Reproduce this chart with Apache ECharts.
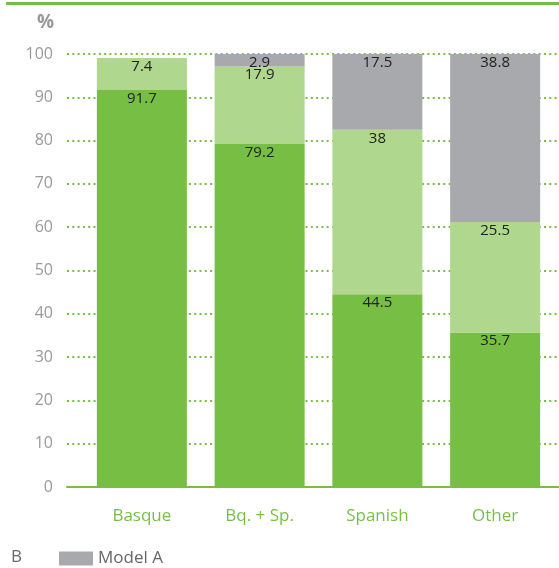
<!DOCTYPE html>
<html><head><meta charset="utf-8">
<script src="https://cdn.jsdelivr.net/npm/echarts@6/dist/echarts.min.js"></script>
<style>html,body{margin:0;padding:0;background:#fff}#c{width:559px;height:568px}</style>
</head><body><div id="c"></div>
<script>
const categories = ['Basque', 'Bq. + Sp.', 'Spanish', 'Other'];
const modelC = [91.7, 79.2, 44.5, 35.7];
const modelB = [7.4, 17.9, 38, 25.5];
const modelA = [null, 2.9, 17.5, 38.8];
const yTicks = [0, 10, 20, 30, 40, 50, 60, 70, 80, 90, 100];

const FONT = '"Open Sans", sans-serif';
const GREEN = '#77bf44';
const chart = echarts.init(document.getElementById('c'));
const lbl = {show: true, position: 'insideTop', distance: 1, color: '#222', fontSize: 15, fontFamily: FONT};
chart.setOption({
  animation: false,
  grid: [
    {left: 67, right: -10, top: 54, bottom: 81},
    {left: 83, width: 471, top: 54, bottom: 81}
  ],
  xAxis: [
    {type: 'value', gridIndex: 0, min: 0, max: 1, axisLabel: {show: false}, axisTick: {show: false}, splitLine: {show: false},
     axisLine: {show: true, lineStyle: {color: GREEN, width: 2}}},
    {type: 'category', gridIndex: 1, data: categories, axisLine: {show: false}, axisTick: {show: false},
     axisLabel: {color: GREEN, fontSize: 17, fontFamily: FONT, margin: 21}}
  ],
  yAxis: [
    {type: 'value', gridIndex: 0, min: 0, max: 100, interval: 10,
     axisLabel: {color: '#9a9a9a', fontSize: 16, fontFamily: FONT, margin: 14, formatter: v => yTicks.includes(v) ? String(v) : ''},
     axisLine: {show: false}, axisTick: {show: false},
     splitLine: {show: true, lineStyle: {color: GREEN, width: 2, type: [2, 3.3]}}},
    {type: 'value', gridIndex: 1, min: 0, max: 100, interval: 10, show: false, splitLine: {show: false}}
  ],
  legend: {left: 54, top: 545, itemWidth: 34, itemHeight: 14, itemGap: 7, data: ['Model A'],
    textStyle: {color: '#666', fontSize: 17, fontFamily: FONT}, icon: 'rect'},
  graphic: [
    {type: 'line', shape: {x1: 6, y1: 3.5, x2: 559, y2: 3.5}, style: {stroke: GREEN, lineWidth: 3}},
    {type: 'text', left: 37, top: 13, style: {text: '%', fill: '#999', font: 'bold 19px ' + FONT}},
    {type: 'text', left: 11, top: 549, style: {text: 'B', fill: '#666', font: '17px ' + FONT}}
  ],
  series: [
    {name: 'Model C', type: 'bar', stack: 's', xAxisIndex: 1, yAxisIndex: 1, barWidth: 90, data: modelC,
     itemStyle: {color: '#77bf44'}, label: lbl},
    {name: 'Model B', type: 'bar', stack: 's', xAxisIndex: 1, yAxisIndex: 1, barWidth: 90, data: modelB,
     itemStyle: {color: '#afd78d'}, label: lbl},
    {name: 'Model A', type: 'bar', stack: 's', xAxisIndex: 1, yAxisIndex: 1, barWidth: 90, data: modelA,
     itemStyle: {color: '#a8a9ac'}, label: lbl}
  ]
});
</script></body></html>
